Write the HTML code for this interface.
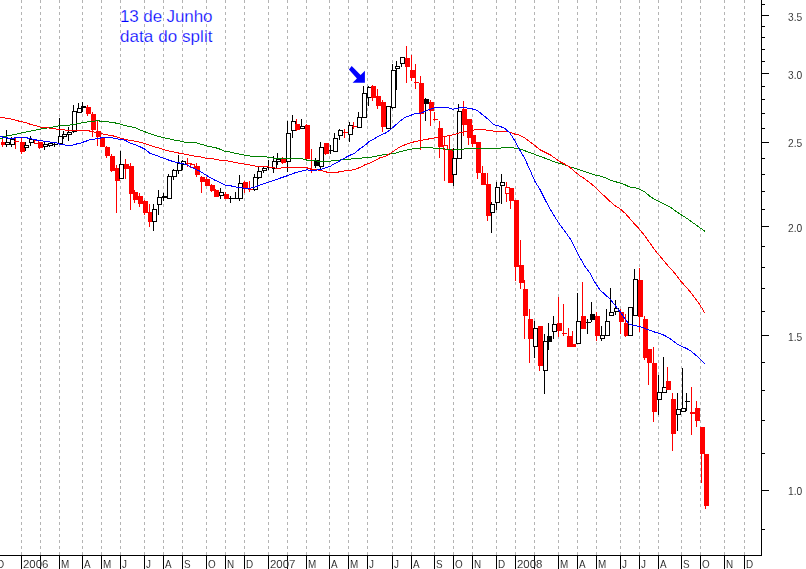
<!DOCTYPE html><html><head><meta charset="utf-8"><style>html,body{margin:0;padding:0;background:#fff;}svg{display:block;}text{font-family:"Liberation Sans",sans-serif;}</style></head><body>
<svg width="806" height="569" viewBox="0 0 806 569">
<rect x="0" y="0" width="806" height="569" fill="#fff"/>
<g stroke="#b4b4b4" stroke-width="1" stroke-dasharray="3 3" shape-rendering="crispEdges">
<line x1="21.5" y1="0" x2="21.5" y2="555"/>
<line x1="40.5" y1="0" x2="40.5" y2="555"/>
<line x1="59.5" y1="0" x2="59.5" y2="555"/>
<line x1="82.5" y1="0" x2="82.5" y2="555"/>
<line x1="101.5" y1="0" x2="101.5" y2="555"/>
<line x1="120.5" y1="0" x2="120.5" y2="555"/>
<line x1="144.5" y1="0" x2="144.5" y2="555"/>
<line x1="163.5" y1="0" x2="163.5" y2="555"/>
<line x1="182.5" y1="0" x2="182.5" y2="555"/>
<line x1="206.5" y1="0" x2="206.5" y2="555"/>
<line x1="225.5" y1="0" x2="225.5" y2="555"/>
<line x1="244.5" y1="0" x2="244.5" y2="555"/>
<line x1="268.5" y1="0" x2="268.5" y2="555"/>
<line x1="287.5" y1="0" x2="287.5" y2="555"/>
<line x1="306.5" y1="0" x2="306.5" y2="555"/>
<line x1="329.5" y1="0" x2="329.5" y2="555"/>
<line x1="348.5" y1="0" x2="348.5" y2="555"/>
<line x1="367.5" y1="0" x2="367.5" y2="555"/>
<line x1="392.5" y1="0" x2="392.5" y2="555"/>
<line x1="411.5" y1="0" x2="411.5" y2="555"/>
<line x1="434.5" y1="0" x2="434.5" y2="555"/>
<line x1="453.5" y1="0" x2="453.5" y2="555"/>
<line x1="472.5" y1="0" x2="472.5" y2="555"/>
<line x1="496.5" y1="0" x2="496.5" y2="555"/>
<line x1="515.5" y1="0" x2="515.5" y2="555"/>
<line x1="534.5" y1="0" x2="534.5" y2="555"/>
<line x1="558.5" y1="0" x2="558.5" y2="555"/>
<line x1="577.5" y1="0" x2="577.5" y2="555"/>
<line x1="596.5" y1="0" x2="596.5" y2="555"/>
<line x1="620.5" y1="0" x2="620.5" y2="555"/>
<line x1="639.5" y1="0" x2="639.5" y2="555"/>
<line x1="658.5" y1="0" x2="658.5" y2="555"/>
<line x1="681.5" y1="0" x2="681.5" y2="555"/>
<line x1="700.5" y1="0" x2="700.5" y2="555"/>
<line x1="724.5" y1="0" x2="724.5" y2="555"/>
<line x1="744.5" y1="0" x2="744.5" y2="555"/>
</g>
<g shape-rendering="crispEdges">
<rect x="2" y="137" width="1" height="10" fill="#f00"/>
<rect x="1" y="142" width="5" height="3" fill="#f00"/>
<rect x="6" y="130" width="1" height="17" fill="#000"/>
<rect x="5" y="142" width="5" height="3" fill="#000"/>
<rect x="6" y="143" width="3" height="1" fill="#fff"/>
<rect x="11" y="137" width="1" height="10" fill="#000"/>
<rect x="10" y="139" width="5" height="6" fill="#000"/>
<rect x="11" y="140" width="3" height="4" fill="#fff"/>
<rect x="15" y="138" width="1" height="11" fill="#f00"/>
<rect x="14" y="141" width="5" height="1" fill="#f00"/>
<rect x="21" y="137" width="1" height="17" fill="#f00"/>
<rect x="20" y="142" width="5" height="10" fill="#f00"/>
<rect x="25" y="142" width="1" height="9" fill="#000"/>
<rect x="24" y="145" width="5" height="3" fill="#000"/>
<rect x="25" y="146" width="3" height="1" fill="#fff"/>
<rect x="30" y="136" width="1" height="10" fill="#000"/>
<rect x="29" y="139" width="5" height="4" fill="#000"/>
<rect x="30" y="140" width="3" height="2" fill="#fff"/>
<rect x="35" y="140" width="1" height="4" fill="#f00"/>
<rect x="34" y="140" width="5" height="4" fill="#f00"/>
<rect x="35" y="141" width="3" height="2" fill="#fff"/>
<rect x="39" y="142" width="1" height="7" fill="#f00"/>
<rect x="38" y="142" width="5" height="6" fill="#f00"/>
<rect x="44" y="142" width="1" height="8" fill="#000"/>
<rect x="43" y="144" width="5" height="3" fill="#000"/>
<rect x="44" y="145" width="3" height="1" fill="#fff"/>
<rect x="49" y="143" width="1" height="4" fill="#000"/>
<rect x="48" y="143" width="5" height="3" fill="#000"/>
<rect x="49" y="144" width="3" height="1" fill="#fff"/>
<rect x="54" y="143" width="1" height="4" fill="#000"/>
<rect x="53" y="144" width="5" height="1" fill="#000"/>
<rect x="59" y="118" width="1" height="26" fill="#000"/>
<rect x="58" y="136" width="5" height="8" fill="#000"/>
<rect x="59" y="137" width="3" height="6" fill="#fff"/>
<rect x="63" y="131" width="1" height="8" fill="#000"/>
<rect x="62" y="134" width="5" height="3" fill="#000"/>
<rect x="63" y="135" width="3" height="1" fill="#fff"/>
<rect x="68" y="127" width="1" height="14" fill="#000"/>
<rect x="67" y="132" width="5" height="3" fill="#000"/>
<rect x="68" y="133" width="3" height="1" fill="#fff"/>
<rect x="73" y="105" width="1" height="28" fill="#000"/>
<rect x="72" y="111" width="5" height="21" fill="#000"/>
<rect x="73" y="112" width="3" height="19" fill="#fff"/>
<rect x="78" y="103" width="1" height="10" fill="#000"/>
<rect x="77" y="108" width="5" height="5" fill="#000"/>
<rect x="78" y="109" width="3" height="3" fill="#fff"/>
<rect x="82" y="102" width="1" height="10" fill="#000"/>
<rect x="81" y="106" width="5" height="2" fill="#000"/>
<rect x="87" y="105" width="1" height="11" fill="#f00"/>
<rect x="86" y="107" width="5" height="7" fill="#f00"/>
<rect x="92" y="112" width="1" height="25" fill="#f00"/>
<rect x="91" y="114" width="5" height="16" fill="#f00"/>
<rect x="97" y="120" width="1" height="26" fill="#f00"/>
<rect x="96" y="131" width="5" height="6" fill="#f00"/>
<rect x="101" y="137" width="1" height="10" fill="#f00"/>
<rect x="100" y="138" width="5" height="9" fill="#f00"/>
<rect x="106" y="146" width="1" height="12" fill="#f00"/>
<rect x="105" y="147" width="5" height="9" fill="#f00"/>
<rect x="111" y="154" width="1" height="18" fill="#f00"/>
<rect x="110" y="156" width="5" height="15" fill="#f00"/>
<rect x="116" y="165" width="1" height="48" fill="#f00"/>
<rect x="115" y="168" width="5" height="13" fill="#f00"/>
<rect x="120" y="151" width="1" height="28" fill="#000"/>
<rect x="119" y="164" width="5" height="15" fill="#000"/>
<rect x="120" y="165" width="3" height="13" fill="#fff"/>
<rect x="125" y="159" width="1" height="20" fill="#f00"/>
<rect x="124" y="164" width="5" height="5" fill="#f00"/>
<rect x="130" y="163" width="1" height="47" fill="#f00"/>
<rect x="129" y="166" width="5" height="28" fill="#f00"/>
<rect x="134" y="190" width="1" height="13" fill="#f00"/>
<rect x="133" y="192" width="5" height="8" fill="#f00"/>
<rect x="139" y="193" width="1" height="14" fill="#f00"/>
<rect x="138" y="196" width="5" height="8" fill="#f00"/>
<rect x="144" y="200" width="1" height="15" fill="#f00"/>
<rect x="143" y="201" width="5" height="12" fill="#f00"/>
<rect x="149" y="204" width="1" height="23" fill="#f00"/>
<rect x="148" y="212" width="5" height="10" fill="#f00"/>
<rect x="153" y="204" width="1" height="27" fill="#000"/>
<rect x="152" y="209" width="5" height="13" fill="#000"/>
<rect x="153" y="210" width="3" height="11" fill="#fff"/>
<rect x="158" y="190" width="1" height="25" fill="#000"/>
<rect x="157" y="197" width="5" height="8" fill="#000"/>
<rect x="158" y="198" width="3" height="6" fill="#fff"/>
<rect x="163" y="193" width="1" height="8" fill="#000"/>
<rect x="162" y="196" width="5" height="2" fill="#000"/>
<rect x="168" y="174" width="1" height="25" fill="#000"/>
<rect x="167" y="176" width="5" height="23" fill="#000"/>
<rect x="168" y="177" width="3" height="21" fill="#fff"/>
<rect x="173" y="169" width="1" height="11" fill="#000"/>
<rect x="172" y="170" width="5" height="7" fill="#000"/>
<rect x="173" y="171" width="3" height="5" fill="#fff"/>
<rect x="178" y="155" width="1" height="19" fill="#000"/>
<rect x="177" y="163" width="5" height="8" fill="#000"/>
<rect x="178" y="164" width="3" height="6" fill="#fff"/>
<rect x="182" y="160" width="1" height="10" fill="#000"/>
<rect x="181" y="161" width="5" height="4" fill="#000"/>
<rect x="182" y="162" width="3" height="2" fill="#fff"/>
<rect x="187" y="158" width="1" height="9" fill="#f00"/>
<rect x="186" y="163" width="5" height="1" fill="#f00"/>
<rect x="191" y="163" width="1" height="5" fill="#f00"/>
<rect x="190" y="164" width="5" height="4" fill="#f00"/>
<rect x="191" y="165" width="3" height="2" fill="#fff"/>
<rect x="196" y="163" width="1" height="14" fill="#f00"/>
<rect x="195" y="166" width="5" height="9" fill="#f00"/>
<rect x="201" y="176" width="1" height="17" fill="#f00"/>
<rect x="200" y="177" width="5" height="5" fill="#f00"/>
<rect x="206" y="177" width="1" height="9" fill="#f00"/>
<rect x="205" y="179" width="5" height="7" fill="#f00"/>
<rect x="211" y="184" width="1" height="8" fill="#f00"/>
<rect x="210" y="185" width="5" height="6" fill="#f00"/>
<rect x="215" y="189" width="1" height="8" fill="#f00"/>
<rect x="214" y="190" width="5" height="7" fill="#f00"/>
<rect x="220" y="188" width="1" height="11" fill="#000"/>
<rect x="219" y="192" width="5" height="4" fill="#000"/>
<rect x="220" y="193" width="3" height="2" fill="#fff"/>
<rect x="225" y="192" width="1" height="7" fill="#f00"/>
<rect x="224" y="194" width="5" height="5" fill="#f00"/>
<rect x="230" y="196" width="1" height="7" fill="#000"/>
<rect x="229" y="198" width="5" height="1" fill="#000"/>
<rect x="235" y="192" width="1" height="7" fill="#000"/>
<rect x="234" y="198" width="5" height="1" fill="#000"/>
<rect x="239" y="175" width="1" height="26" fill="#000"/>
<rect x="238" y="183" width="5" height="16" fill="#000"/>
<rect x="239" y="184" width="3" height="14" fill="#fff"/>
<rect x="244" y="181" width="1" height="12" fill="#f00"/>
<rect x="243" y="182" width="5" height="6" fill="#f00"/>
<rect x="249" y="181" width="1" height="11" fill="#f00"/>
<rect x="248" y="189" width="5" height="1" fill="#f00"/>
<rect x="254" y="174" width="1" height="17" fill="#000"/>
<rect x="253" y="177" width="5" height="13" fill="#000"/>
<rect x="254" y="178" width="3" height="11" fill="#fff"/>
<rect x="258" y="167" width="1" height="12" fill="#000"/>
<rect x="257" y="171" width="5" height="7" fill="#000"/>
<rect x="258" y="172" width="3" height="5" fill="#fff"/>
<rect x="263" y="167" width="1" height="6" fill="#000"/>
<rect x="262" y="168" width="5" height="3" fill="#000"/>
<rect x="263" y="169" width="3" height="1" fill="#fff"/>
<rect x="268" y="160" width="1" height="10" fill="#000"/>
<rect x="267" y="167" width="5" height="1" fill="#000"/>
<rect x="273" y="156" width="1" height="17" fill="#000"/>
<rect x="272" y="161" width="5" height="8" fill="#000"/>
<rect x="273" y="162" width="3" height="6" fill="#fff"/>
<rect x="277" y="153" width="1" height="12" fill="#000"/>
<rect x="276" y="159" width="5" height="3" fill="#000"/>
<rect x="277" y="160" width="3" height="1" fill="#fff"/>
<rect x="282" y="157" width="1" height="7" fill="#f00"/>
<rect x="281" y="158" width="5" height="5" fill="#f00"/>
<rect x="287" y="121" width="1" height="51" fill="#000"/>
<rect x="286" y="133" width="5" height="29" fill="#000"/>
<rect x="287" y="134" width="3" height="27" fill="#fff"/>
<rect x="292" y="115" width="1" height="23" fill="#000"/>
<rect x="291" y="121" width="5" height="10" fill="#000"/>
<rect x="292" y="122" width="3" height="8" fill="#fff"/>
<rect x="296" y="119" width="1" height="12" fill="#f00"/>
<rect x="295" y="124" width="5" height="6" fill="#f00"/>
<rect x="301" y="119" width="1" height="10" fill="#000"/>
<rect x="300" y="126" width="5" height="3" fill="#000"/>
<rect x="301" y="127" width="3" height="1" fill="#fff"/>
<rect x="306" y="124" width="1" height="35" fill="#f00"/>
<rect x="305" y="125" width="5" height="34" fill="#f00"/>
<rect x="311" y="149" width="1" height="24" fill="#f00"/>
<rect x="310" y="169" width="5" height="1" fill="#f00"/>
<rect x="315" y="158" width="1" height="10" fill="#000"/>
<rect x="314" y="160" width="5" height="6" fill="#000"/>
<rect x="320" y="142" width="1" height="28" fill="#000"/>
<rect x="319" y="147" width="5" height="20" fill="#000"/>
<rect x="320" y="148" width="3" height="18" fill="#fff"/>
<rect x="325" y="143" width="1" height="12" fill="#f00"/>
<rect x="324" y="143" width="5" height="11" fill="#f00"/>
<rect x="330" y="145" width="1" height="9" fill="#000"/>
<rect x="329" y="150" width="5" height="1" fill="#000"/>
<rect x="334" y="133" width="1" height="19" fill="#000"/>
<rect x="333" y="138" width="5" height="14" fill="#000"/>
<rect x="334" y="139" width="3" height="12" fill="#fff"/>
<rect x="339" y="129" width="1" height="11" fill="#000"/>
<rect x="338" y="130" width="5" height="6" fill="#000"/>
<rect x="339" y="131" width="3" height="4" fill="#fff"/>
<rect x="344" y="129" width="1" height="9" fill="#f00"/>
<rect x="343" y="132" width="5" height="1" fill="#f00"/>
<rect x="349" y="122" width="1" height="20" fill="#000"/>
<rect x="348" y="125" width="5" height="10" fill="#000"/>
<rect x="349" y="126" width="3" height="8" fill="#fff"/>
<rect x="353" y="122" width="1" height="7" fill="#f00"/>
<rect x="352" y="126" width="5" height="1" fill="#f00"/>
<rect x="358" y="112" width="1" height="16" fill="#000"/>
<rect x="357" y="117" width="5" height="11" fill="#000"/>
<rect x="358" y="118" width="3" height="9" fill="#fff"/>
<rect x="363" y="86" width="1" height="32" fill="#000"/>
<rect x="362" y="93" width="5" height="25" fill="#000"/>
<rect x="363" y="94" width="3" height="23" fill="#fff"/>
<rect x="368" y="86" width="1" height="20" fill="#000"/>
<rect x="367" y="87" width="5" height="11" fill="#000"/>
<rect x="368" y="88" width="3" height="9" fill="#fff"/>
<rect x="372" y="85" width="1" height="16" fill="#f00"/>
<rect x="371" y="86" width="5" height="12" fill="#f00"/>
<rect x="377" y="89" width="1" height="20" fill="#f00"/>
<rect x="376" y="96" width="5" height="10" fill="#f00"/>
<rect x="382" y="100" width="1" height="32" fill="#f00"/>
<rect x="381" y="102" width="5" height="25" fill="#f00"/>
<rect x="387" y="106" width="1" height="23" fill="#000"/>
<rect x="386" y="106" width="5" height="23" fill="#000"/>
<rect x="387" y="107" width="3" height="21" fill="#fff"/>
<rect x="392" y="64" width="1" height="45" fill="#000"/>
<rect x="391" y="70" width="5" height="38" fill="#000"/>
<rect x="392" y="71" width="3" height="36" fill="#fff"/>
<rect x="396" y="61" width="1" height="29" fill="#000"/>
<rect x="395" y="66" width="5" height="3" fill="#000"/>
<rect x="396" y="67" width="3" height="1" fill="#fff"/>
<rect x="401" y="57" width="1" height="10" fill="#000"/>
<rect x="400" y="57" width="5" height="7" fill="#000"/>
<rect x="401" y="58" width="3" height="5" fill="#fff"/>
<rect x="406" y="46" width="1" height="37" fill="#f00"/>
<rect x="405" y="58" width="5" height="9" fill="#f00"/>
<rect x="411" y="55" width="1" height="26" fill="#f00"/>
<rect x="410" y="70" width="5" height="8" fill="#f00"/>
<rect x="415" y="64" width="1" height="25" fill="#f00"/>
<rect x="414" y="82" width="5" height="1" fill="#f00"/>
<rect x="420" y="76" width="1" height="74" fill="#f00"/>
<rect x="419" y="83" width="5" height="31" fill="#f00"/>
<rect x="425" y="98" width="1" height="23" fill="#000"/>
<rect x="424" y="99" width="5" height="5" fill="#000"/>
<rect x="430" y="100" width="1" height="26" fill="#f00"/>
<rect x="429" y="102" width="5" height="9" fill="#f00"/>
<rect x="434" y="112" width="1" height="9" fill="#f00"/>
<rect x="433" y="119" width="5" height="1" fill="#f00"/>
<rect x="439" y="121" width="1" height="37" fill="#f00"/>
<rect x="438" y="128" width="5" height="19" fill="#f00"/>
<rect x="444" y="136" width="1" height="45" fill="#f00"/>
<rect x="443" y="145" width="5" height="5" fill="#f00"/>
<rect x="444" y="146" width="3" height="3" fill="#fff"/>
<rect x="449" y="136" width="1" height="47" fill="#f00"/>
<rect x="448" y="149" width="5" height="34" fill="#f00"/>
<rect x="453" y="148" width="1" height="38" fill="#000"/>
<rect x="452" y="158" width="5" height="17" fill="#000"/>
<rect x="453" y="159" width="3" height="15" fill="#fff"/>
<rect x="458" y="104" width="1" height="55" fill="#000"/>
<rect x="457" y="111" width="5" height="48" fill="#000"/>
<rect x="458" y="112" width="3" height="46" fill="#fff"/>
<rect x="463" y="101" width="1" height="35" fill="#f00"/>
<rect x="462" y="109" width="5" height="16" fill="#f00"/>
<rect x="468" y="119" width="1" height="26" fill="#f00"/>
<rect x="467" y="119" width="5" height="19" fill="#f00"/>
<rect x="472" y="125" width="1" height="22" fill="#f00"/>
<rect x="471" y="135" width="5" height="9" fill="#f00"/>
<rect x="477" y="142" width="1" height="37" fill="#f00"/>
<rect x="476" y="142" width="5" height="31" fill="#f00"/>
<rect x="482" y="166" width="1" height="19" fill="#f00"/>
<rect x="481" y="173" width="5" height="12" fill="#f00"/>
<rect x="487" y="173" width="1" height="48" fill="#f00"/>
<rect x="486" y="184" width="5" height="32" fill="#f00"/>
<rect x="491" y="202" width="1" height="31" fill="#000"/>
<rect x="490" y="204" width="5" height="9" fill="#000"/>
<rect x="491" y="205" width="3" height="7" fill="#fff"/>
<rect x="496" y="182" width="1" height="28" fill="#000"/>
<rect x="495" y="187" width="5" height="16" fill="#000"/>
<rect x="496" y="188" width="3" height="14" fill="#fff"/>
<rect x="501" y="174" width="1" height="30" fill="#000"/>
<rect x="500" y="182" width="5" height="4" fill="#000"/>
<rect x="501" y="183" width="3" height="2" fill="#fff"/>
<rect x="506" y="182" width="1" height="20" fill="#f00"/>
<rect x="505" y="187" width="5" height="7" fill="#f00"/>
<rect x="506" y="188" width="3" height="5" fill="#fff"/>
<rect x="510" y="188" width="1" height="21" fill="#f00"/>
<rect x="509" y="188" width="5" height="13" fill="#f00"/>
<rect x="515" y="200" width="1" height="81" fill="#f00"/>
<rect x="514" y="200" width="5" height="67" fill="#f00"/>
<rect x="520" y="240" width="1" height="49" fill="#f00"/>
<rect x="519" y="265" width="5" height="18" fill="#f00"/>
<rect x="524" y="280" width="1" height="59" fill="#f00"/>
<rect x="523" y="289" width="5" height="27" fill="#f00"/>
<rect x="529" y="309" width="1" height="54" fill="#f00"/>
<rect x="528" y="319" width="5" height="20" fill="#f00"/>
<rect x="534" y="321" width="1" height="37" fill="#000"/>
<rect x="533" y="328" width="5" height="19" fill="#000"/>
<rect x="534" y="329" width="3" height="17" fill="#fff"/>
<rect x="539" y="326" width="1" height="45" fill="#f00"/>
<rect x="538" y="326" width="5" height="40" fill="#f00"/>
<rect x="544" y="334" width="1" height="60" fill="#000"/>
<rect x="543" y="341" width="5" height="30" fill="#000"/>
<rect x="544" y="342" width="3" height="28" fill="#fff"/>
<rect x="548" y="323" width="1" height="27" fill="#000"/>
<rect x="547" y="336" width="5" height="6" fill="#000"/>
<rect x="553" y="316" width="1" height="23" fill="#000"/>
<rect x="552" y="324" width="5" height="8" fill="#000"/>
<rect x="553" y="325" width="3" height="6" fill="#fff"/>
<rect x="558" y="297" width="1" height="40" fill="#f00"/>
<rect x="557" y="323" width="5" height="8" fill="#f00"/>
<rect x="563" y="304" width="1" height="32" fill="#f00"/>
<rect x="562" y="333" width="5" height="1" fill="#f00"/>
<rect x="568" y="328" width="1" height="19" fill="#f00"/>
<rect x="567" y="336" width="5" height="11" fill="#f00"/>
<rect x="572" y="331" width="1" height="16" fill="#f00"/>
<rect x="571" y="344" width="5" height="3" fill="#f00"/>
<rect x="577" y="293" width="1" height="51" fill="#000"/>
<rect x="576" y="321" width="5" height="23" fill="#000"/>
<rect x="577" y="322" width="3" height="21" fill="#fff"/>
<rect x="582" y="282" width="1" height="47" fill="#f00"/>
<rect x="581" y="316" width="5" height="13" fill="#f00"/>
<rect x="587" y="319" width="1" height="15" fill="#000"/>
<rect x="586" y="322" width="5" height="1" fill="#000"/>
<rect x="591" y="302" width="1" height="20" fill="#000"/>
<rect x="590" y="314" width="5" height="6" fill="#000"/>
<rect x="596" y="312" width="1" height="29" fill="#f00"/>
<rect x="595" y="316" width="5" height="20" fill="#f00"/>
<rect x="601" y="326" width="1" height="15" fill="#000"/>
<rect x="600" y="335" width="5" height="4" fill="#000"/>
<rect x="601" y="336" width="3" height="2" fill="#fff"/>
<rect x="606" y="309" width="1" height="27" fill="#000"/>
<rect x="605" y="321" width="5" height="15" fill="#000"/>
<rect x="606" y="322" width="3" height="13" fill="#fff"/>
<rect x="610" y="288" width="1" height="28" fill="#000"/>
<rect x="609" y="312" width="5" height="4" fill="#000"/>
<rect x="610" y="313" width="3" height="2" fill="#fff"/>
<rect x="615" y="300" width="1" height="15" fill="#000"/>
<rect x="614" y="308" width="5" height="4" fill="#000"/>
<rect x="615" y="309" width="3" height="2" fill="#fff"/>
<rect x="620" y="309" width="1" height="25" fill="#f00"/>
<rect x="619" y="312" width="5" height="10" fill="#f00"/>
<rect x="625" y="314" width="1" height="23" fill="#f00"/>
<rect x="624" y="323" width="5" height="13" fill="#f00"/>
<rect x="629" y="307" width="1" height="29" fill="#000"/>
<rect x="628" y="307" width="5" height="29" fill="#000"/>
<rect x="629" y="308" width="3" height="27" fill="#fff"/>
<rect x="634" y="269" width="1" height="47" fill="#000"/>
<rect x="633" y="279" width="5" height="37" fill="#000"/>
<rect x="634" y="280" width="3" height="35" fill="#fff"/>
<rect x="639" y="268" width="1" height="64" fill="#f00"/>
<rect x="638" y="280" width="5" height="37" fill="#f00"/>
<rect x="644" y="316" width="1" height="44" fill="#f00"/>
<rect x="643" y="319" width="5" height="39" fill="#f00"/>
<rect x="648" y="349" width="1" height="36" fill="#f00"/>
<rect x="647" y="349" width="5" height="14" fill="#f00"/>
<rect x="653" y="347" width="1" height="75" fill="#f00"/>
<rect x="652" y="363" width="5" height="49" fill="#f00"/>
<rect x="658" y="375" width="1" height="40" fill="#000"/>
<rect x="657" y="392" width="5" height="8" fill="#000"/>
<rect x="658" y="393" width="3" height="6" fill="#fff"/>
<rect x="663" y="357" width="1" height="36" fill="#000"/>
<rect x="662" y="387" width="5" height="6" fill="#000"/>
<rect x="663" y="388" width="3" height="4" fill="#fff"/>
<rect x="667" y="367" width="1" height="23" fill="#f00"/>
<rect x="666" y="381" width="5" height="9" fill="#f00"/>
<rect x="672" y="393" width="1" height="58" fill="#f00"/>
<rect x="671" y="399" width="5" height="35" fill="#f00"/>
<rect x="677" y="393" width="1" height="38" fill="#000"/>
<rect x="676" y="409" width="5" height="6" fill="#000"/>
<rect x="677" y="410" width="3" height="4" fill="#fff"/>
<rect x="682" y="368" width="1" height="44" fill="#000"/>
<rect x="681" y="408" width="5" height="4" fill="#000"/>
<rect x="682" y="409" width="3" height="2" fill="#fff"/>
<rect x="686" y="393" width="1" height="18" fill="#000"/>
<rect x="685" y="401" width="5" height="1" fill="#000"/>
<rect x="691" y="387" width="1" height="48" fill="#f00"/>
<rect x="690" y="412" width="5" height="2" fill="#f00"/>
<rect x="696" y="401" width="1" height="26" fill="#f00"/>
<rect x="695" y="408" width="5" height="13" fill="#f00"/>
<rect x="701" y="427" width="1" height="56" fill="#f00"/>
<rect x="700" y="427" width="5" height="27" fill="#f00"/>
<rect x="705" y="454" width="1" height="55" fill="#f00"/>
<rect x="704" y="454" width="5" height="52" fill="#f00"/>
</g>
<polyline points="0,138.5 2,138.4 3,137.5 4,136.6 6,136.3 10,135.3 15,134.4 20,133.3 25,132.2 30,131.3 35,130.2 40,129.2 45,128.3 50,127.6 55,126.6 60,125.7 65,125.5 70,125.0 75,124.2 80,123.3 85,122.3 90,121.6 95,121.1 97,120.5 100,121.1 105,121.1 110,122.3 115,122.9 120,124.0 125,125.5 130,126.8 134,127.3 140,129.9 145,131.8 150,133.7 155,135.3 160,136.8 165,137.9 170,139.1 175,140.3 180,141.0 185,142.2 190,142.5 195,142.5 200,143.9 205,145.4 210,146.7 215,147.5 220,149.2 225,151.3 230,152.0 235,153.2 240,154.3 245,155.1 250,156.0 255,156.3 260,156.3 265,156.5 270,157.6 275,158.3 280,158.7 290,158.9 300,158.9 305,159.1 307,160.3 310,160.4 315,160.9 320,161.2 330,161.3 335,160.2 340,160.0 350,159.1 360,158.2 370,157.4 375,156.5 380,155.4 385,154.6 390,154.0 395,153.2 400,151.7 405,150.4 410,149.3 415,148.5 420,148.0 425,147.4 430,147.4 435,148.3 440,148.7 445,149.0 450,149.4 453,150.3 455,149.8 460,149.6 465,148.8 470,148.2 500,148.2 505,147.5 510,147.2 515,148.2 520,149.0 525,150.8 530,152.6 535,154.5 540,156.4 545,158.2 550,160.0 555,162.1 560,163.5 565,164.8 570,167.0 575,168.4 580,170.0 585,171.5 590,173.4 595,175.0 600,176.1 605,177.6 610,180.0 615,181.6 620,182.9 625,184.8 630,187.1 635,187.8 640,189.3 645,192.1 650,196.4 655,199.7 660,202.1 665,204.5 670,206.9 675,210.7 680,214.0 685,217.1 690,220.6 695,224.2 700,227.8 705,231.3" fill="none" stroke="#008000" stroke-width="1" shape-rendering="crispEdges"/>
<polyline points="0,117.4 6,118.1 11,119.1 16,120.3 20,121.4 25,122.4 30,124.2 35,125.5 40,127.0 43,127.6 50,128.1 55,128.9 60,129.8 70,130.2 85,130.4 88,130.7 92,131.5 95,132.2 100,133.3 105,134.4 110,135.3 115,136.3 120,137.9 125,139.4 130,140.4 135,141.2 140,142.2 145,143.6 150,145.3 155,146.9 160,148.2 165,150.1 170,151.2 175,152.3 180,153.3 185,154.2 190,155.2 195,156.2 200,156.8 205,158.1 210,158.4 215,159.1 220,160.3 225,160.6 230,161.2 235,162.5 240,163.4 245,164.1 250,165.0 255,166.0 260,166.3 267,166.3 270,167.4 277,168.2 285,167.8 300,167.4 307,167.8 310,168.9 315,169.5 320,170.3 325,171.5 328,172.5 337,172.5 340,171.5 350,170.4 355,169.5 360,167.4 365,164.8 370,163.0 375,160.4 380,157.8 385,156.4 390,153.5 395,150.1 400,146.9 405,144.8 410,143.0 415,141.6 420,140.6 425,139.5 430,138.8 435,137.7 440,136.9 445,136.4 450,135.5 455,134.5 460,132.7 465,131.9 470,130.8 475,129.8 478,129.3 483,129.8 490,130.3 495,131.4 505,131.4 510,132.1 515,134.2 520,135.3 525,138.2 530,141.9 535,145.6 540,149.8 545,152.2 550,154.7 555,158.2 560,161.7 565,164.2 570,167.4 575,171.8 580,175.8 585,179.0 590,182.9 595,187.1 600,191.9 605,196.6 610,201.3 615,205.6 620,208.8 625,213.2 630,218.7 635,224.5 640,229.8 645,236.1 650,243.2 655,250.3 660,256.3 665,262.2 670,268.1 675,273.4 680,280.3 685,285.8 690,291.5 695,298.0 700,305.0 705,313.3" fill="none" stroke="#f00" stroke-width="1" shape-rendering="crispEdges"/>
<polyline points="0,136.5 2,136.5 3,137.5 7,137.6 8,138.5 14,138.5 15,137.5 25,137.5 30,138.5 35,139.8 40,140.5 45,141.4 50,142.0 55,142.4 58,143.3 60,144.3 65,145.0 73,145.0 75,144.3 80,143.3 85,141.5 90,139.8 95,139.1 100,138.1 103,137.6 110,137.4 115,138.5 120,139.4 125,140.2 130,142.9 135,144.6 140,146.7 145,149.3 150,153.3 155,155.0 160,156.9 165,158.8 170,160.5 175,162.1 180,163.1 185,164.3 190,166.4 195,169.0 200,171.2 205,174.5 210,177.4 215,180.2 220,182.6 225,185.0 230,185.6 235,186.9 240,187.5 245,188.3 250,188.3 255,186.9 260,185.1 265,183.4 270,181.7 275,180.0 280,178.2 285,176.5 290,174.8 295,172.8 300,171.3 305,170.4 307,169.8 310,170.4 315,170.4 320,169.5 325,168.1 330,166.4 335,163.4 340,160.8 345,157.8 350,155.2 355,153.0 360,148.7 365,145.2 370,140.9 375,138.3 380,135.4 385,133.3 390,130.1 395,125.5 400,121.2 405,117.5 410,115.6 415,113.7 420,113.3 425,111.5 430,109.3 435,107.6 440,107.2 445,107.2 450,108.3 453,109.2 455,108.7 460,107.9 463,107.4 465,107.7 470,108.5 475,109.5 477,110.3 480,112.7 485,116.6 490,120.8 493,124.0 495,125.0 500,126.4 505,128.5 510,133.2 515,141.0 520,150.5 525,159.0 530,170.0 535,181.5 540,189.5 545,199.5 550,209.0 555,217.1 560,224.8 565,231.6 570,238.4 575,248.0 580,257.7 585,266.4 590,273.2 595,282.5 600,290.0 605,294.5 610,299.0 615,305.3 620,311.6 625,318.8 628,323.0 630,324.6 640,326.7 650,330.3 655,332.2 660,333.5 665,335.7 670,338.5 675,342.5 680,345.7 685,347.7 690,350.4 695,354.4 700,359.1 705,364.2" fill="none" stroke="#00f" stroke-width="1" shape-rendering="crispEdges"/>
<g shape-rendering="crispEdges" fill="#000">
<rect x="0" y="555" width="762" height="1"/>
<rect x="761" y="0" width="1" height="556"/>
<rect x="21" y="555" width="1" height="14"/>
<rect x="40" y="555" width="1" height="14"/>
<rect x="59" y="555" width="1" height="14"/>
<rect x="82" y="555" width="1" height="14"/>
<rect x="101" y="555" width="1" height="14"/>
<rect x="120" y="555" width="1" height="14"/>
<rect x="144" y="555" width="1" height="14"/>
<rect x="163" y="555" width="1" height="14"/>
<rect x="182" y="555" width="1" height="14"/>
<rect x="206" y="555" width="1" height="14"/>
<rect x="225" y="555" width="1" height="14"/>
<rect x="244" y="555" width="1" height="14"/>
<rect x="268" y="555" width="1" height="14"/>
<rect x="287" y="555" width="1" height="14"/>
<rect x="306" y="555" width="1" height="14"/>
<rect x="329" y="555" width="1" height="14"/>
<rect x="348" y="555" width="1" height="14"/>
<rect x="367" y="555" width="1" height="14"/>
<rect x="392" y="555" width="1" height="14"/>
<rect x="411" y="555" width="1" height="14"/>
<rect x="434" y="555" width="1" height="14"/>
<rect x="453" y="555" width="1" height="14"/>
<rect x="472" y="555" width="1" height="14"/>
<rect x="496" y="555" width="1" height="14"/>
<rect x="515" y="555" width="1" height="14"/>
<rect x="534" y="555" width="1" height="14"/>
<rect x="558" y="555" width="1" height="14"/>
<rect x="577" y="555" width="1" height="14"/>
<rect x="596" y="555" width="1" height="14"/>
<rect x="620" y="555" width="1" height="14"/>
<rect x="639" y="555" width="1" height="14"/>
<rect x="658" y="555" width="1" height="14"/>
<rect x="681" y="555" width="1" height="14"/>
<rect x="700" y="555" width="1" height="14"/>
<rect x="724" y="555" width="1" height="14"/>
<rect x="744" y="555" width="1" height="14"/>
<rect x="761" y="4" width="4" height="1"/>
<rect x="761" y="26" width="4" height="1"/>
<rect x="761" y="37" width="4" height="1"/>
<rect x="761" y="49" width="4" height="1"/>
<rect x="761" y="61" width="4" height="1"/>
<rect x="761" y="86" width="4" height="1"/>
<rect x="761" y="99" width="4" height="1"/>
<rect x="761" y="113" width="4" height="1"/>
<rect x="761" y="128" width="4" height="1"/>
<rect x="761" y="158" width="4" height="1"/>
<rect x="761" y="174" width="4" height="1"/>
<rect x="761" y="191" width="4" height="1"/>
<rect x="761" y="209" width="4" height="1"/>
<rect x="761" y="246" width="4" height="1"/>
<rect x="761" y="267" width="4" height="1"/>
<rect x="761" y="288" width="4" height="1"/>
<rect x="761" y="311" width="4" height="1"/>
<rect x="761" y="362" width="4" height="1"/>
<rect x="761" y="390" width="4" height="1"/>
<rect x="761" y="420" width="4" height="1"/>
<rect x="761" y="453" width="4" height="1"/>
<rect x="761" y="529" width="4" height="1"/>
<rect x="761" y="15" width="8" height="1"/>
<rect x="761" y="73" width="8" height="1"/>
<rect x="761" y="142" width="8" height="1"/>
<rect x="761" y="226" width="8" height="1"/>
<rect x="761" y="335" width="8" height="1"/>
<rect x="761" y="490" width="8" height="1"/>
</g>
<g font-size="11" fill="#000" opacity="0.999" stroke="#fff" stroke-width="0.15">
<text transform="translate(788,21) scale(0.93,1)">3.5</text>
<text transform="translate(788,79) scale(0.93,1)">3.0</text>
<text transform="translate(788,147) scale(0.93,1)">2.5</text>
<text transform="translate(788,232) scale(0.93,1)">2.0</text>
<text transform="translate(788,341) scale(0.93,1)">1.5</text>
<text transform="translate(788,495) scale(0.93,1)">1.0</text>
<text transform="translate(-3,568) scale(0.9,1)">D</text>
<text transform="translate(23,568) scale(1.04,1)">2006</text>
<text transform="translate(61,568) scale(0.9,1)">M</text>
<text transform="translate(84,568) scale(0.9,1)">A</text>
<text transform="translate(103,568) scale(0.9,1)">M</text>
<text transform="translate(122,568) scale(0.9,1)">J</text>
<text transform="translate(146,568) scale(0.9,1)">J</text>
<text transform="translate(165,568) scale(0.9,1)">A</text>
<text transform="translate(184,568) scale(0.9,1)">S</text>
<text transform="translate(208,568) scale(0.9,1)">O</text>
<text transform="translate(227,568) scale(0.9,1)">N</text>
<text transform="translate(246,568) scale(0.9,1)">D</text>
<text transform="translate(270,568) scale(1.04,1)">2007</text>
<text transform="translate(308,568) scale(0.9,1)">M</text>
<text transform="translate(331,568) scale(0.9,1)">A</text>
<text transform="translate(350,568) scale(0.9,1)">M</text>
<text transform="translate(369,568) scale(0.9,1)">J</text>
<text transform="translate(394,568) scale(0.9,1)">J</text>
<text transform="translate(413,568) scale(0.9,1)">A</text>
<text transform="translate(436,568) scale(0.9,1)">S</text>
<text transform="translate(455,568) scale(0.9,1)">O</text>
<text transform="translate(474,568) scale(0.9,1)">N</text>
<text transform="translate(498,568) scale(0.9,1)">D</text>
<text transform="translate(517,568) scale(1.04,1)">2008</text>
<text transform="translate(560,568) scale(0.9,1)">M</text>
<text transform="translate(579,568) scale(0.9,1)">A</text>
<text transform="translate(598,568) scale(0.9,1)">M</text>
<text transform="translate(622,568) scale(0.9,1)">J</text>
<text transform="translate(641,568) scale(0.9,1)">J</text>
<text transform="translate(660,568) scale(0.9,1)">A</text>
<text transform="translate(683,568) scale(0.9,1)">S</text>
<text transform="translate(702,568) scale(0.9,1)">O</text>
<text transform="translate(726,568) scale(0.9,1)">N</text>
<text transform="translate(746,568) scale(0.9,1)">D</text>
</g>
<g fill="#00f" font-size="17" opacity="0.999" stroke="#fff" stroke-width="0.25">
<text x="120" y="22" textLength="92.5" lengthAdjust="spacing">13 de Junho</text>
<text x="120" y="42" textLength="92.5" lengthAdjust="spacing">data do split</text>
</g>
<polygon points="348.9,69.5 351.7,66.1 360.6,75 364.9,70.7 364.9,82.7 352.6,82.7 356.9,78.4" fill="#00f"/>
</svg></body></html>
